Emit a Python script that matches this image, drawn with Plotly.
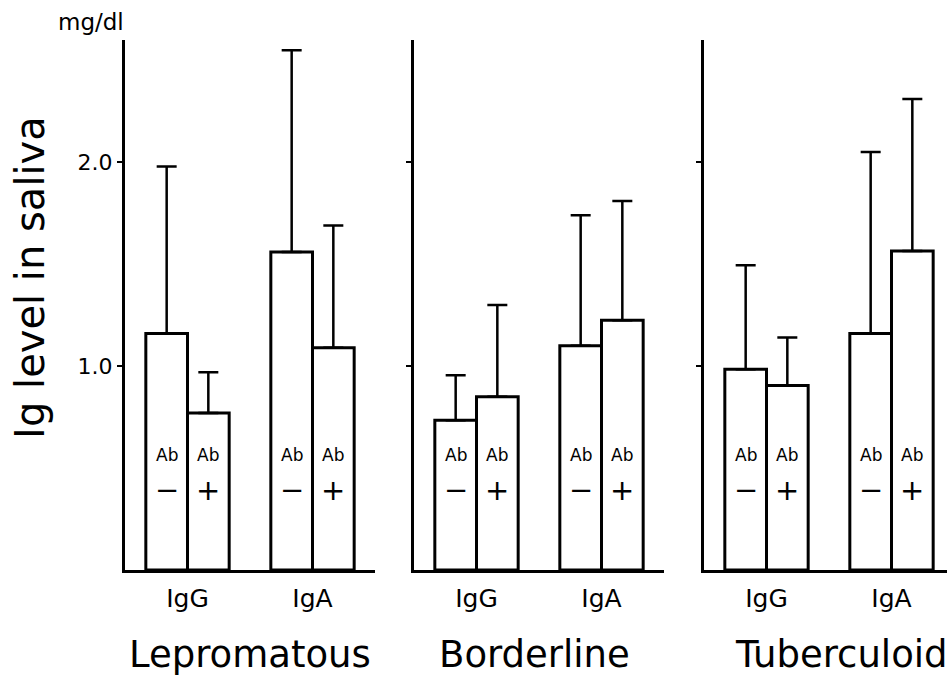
import plotly.graph_objects as go

# ---------------- data ----------------
panels = ["Lepromatous", "Borderline", "Tuberculoid"]
ig_classes = ["IgG", "IgA"]
ab_status = ["−", "+"]          # antibody negative / positive

# mean Ig level in saliva (mg/dl): [IgG, IgA]
lepro_ab_neg = [1.16, 1.56]
lepro_ab_pos = [0.77, 1.09]
border_ab_neg = [0.735, 1.10]
border_ab_pos = [0.85, 1.225]
tuber_ab_neg = [0.985, 1.16]
tuber_ab_pos = [0.905, 1.565]

# standard deviation (upper error bar)
lepro_sd_neg = [0.82, 0.99]
lepro_sd_pos = [0.20, 0.60]
border_sd_neg = [0.22, 0.64]
border_sd_pos = [0.45, 0.585]
tuber_sd_neg = [0.51, 0.89]
tuber_sd_pos = [0.235, 0.745]

y_ticks = [1.0, 2.0]
y_tick_labels = ["1.0", "2.0"]

means = [[lepro_ab_neg, lepro_ab_pos], [border_ab_neg, border_ab_pos], [tuber_ab_neg, tuber_ab_pos]]
sds = [[lepro_sd_neg, lepro_sd_pos], [border_sd_neg, border_sd_pos], [tuber_sd_neg, tuber_sd_pos]]

# ---------------- layout constants ----------------
FONT = "DejaVu Sans"
W, H = 947, 683
ML, MR, MT, MB = 125, 0, 40, 113
PW = W - ML - MR
YMAX = 2.6
domains = [[0.0, 250 / PW], [289 / PW, 539 / PW], [579 / PW, 1.0]]
xranges = [[-0.5, 1.5], [-0.5, 1.5], [-0.5, 243 / 250 * 2 - 0.5]]
title_x = [0.5, 0.48, 0.565]

fig = go.Figure()
axis_names = ["", "2", "3"]
annotations = []

for p in range(3):
    xa = "x" + axis_names[p]
    ya = "y" + axis_names[p]
    for s in range(2):
        fig.add_trace(go.Bar(
            x=ig_classes, y=means[p][s], xaxis=xa, yaxis=ya,
            marker=dict(color="white", line=dict(color="black", width=3)),
            error_y=dict(type="data", array=sds[p][s], arrayminus=[0] * len(sds[p][s]),
                         symmetric=False, color="black", thickness=2.5, width=10),
            showlegend=False, hoverinfo="skip",
        ))
        for i in range(len(ig_classes)):
            xc = i + (s - 0.5) / 3
            annotations.append(dict(x=xc, y=0.564, xref=xa, yref=ya, text="Ab", showarrow=False,
                                    xanchor="center", yanchor="middle",
                                    font=dict(family=FONT, size=17, color="black")))
            annotations.append(dict(x=xc, y=0.392, xref=xa, yref=ya, text=ab_status[s], showarrow=False,
                                    xanchor="center", yanchor="middle",
                                    font=dict(family=FONT, size=29, color="black")))
    annotations.append(dict(x=title_x[p], y=-0.16, xref=xa + " domain", yref="paper", text=panels[p],
                            showarrow=False, xanchor="center", yanchor="middle",
                            font=dict(family=FONT, size=37, color="black")))

annotations.append(dict(x=-0.1156, y=0.553, xref="paper", yref="paper", text="Ig level in saliva",
                        textangle=-90, showarrow=False, xanchor="center", yanchor="middle",
                        font=dict(family=FONT, size=40, color="black")))
annotations.append(dict(x=-0.0414, y=1.034, xref="paper", yref="paper", text="mg/dl",
                        showarrow=False, xanchor="center", yanchor="middle",
                        font=dict(family=FONT, size=23, color="black")))

layout = dict(
    width=W, height=H, margin=dict(l=ML, r=MR, t=MT, b=MB),
    paper_bgcolor="white", plot_bgcolor="white",
    barmode="group", bargap=1 / 3, bargroupgap=0,
    annotations=annotations, showlegend=False,
    font=dict(family=FONT, color="black"),
)
for p in range(3):
    sfx = "" if p == 0 else str(p + 1)
    layout["xaxis" + sfx] = dict(
        domain=domains[p], range=xranges[p], anchor="y" + sfx,
        showline=True, linecolor="black", linewidth=3, ticks="", showgrid=False, zeroline=False,
        tickfont=dict(family=FONT, size=25, color="black"), ticklabelstandoff=4,
    )
    layout["yaxis" + sfx] = dict(
        domain=[0, 1], range=[0, YMAX], anchor="x" + sfx,
        showline=True, linecolor="black", linewidth=3, ticks="outside", ticklen=5, tickwidth=2,
        tickcolor="black", tickvals=y_ticks, ticktext=y_tick_labels, showticklabels=(p == 0),
        tickfont=dict(family=FONT, size=22, color="black"), showgrid=False, zeroline=False,
    )
fig.update_layout(**layout)
fig.write_html("out.html")
